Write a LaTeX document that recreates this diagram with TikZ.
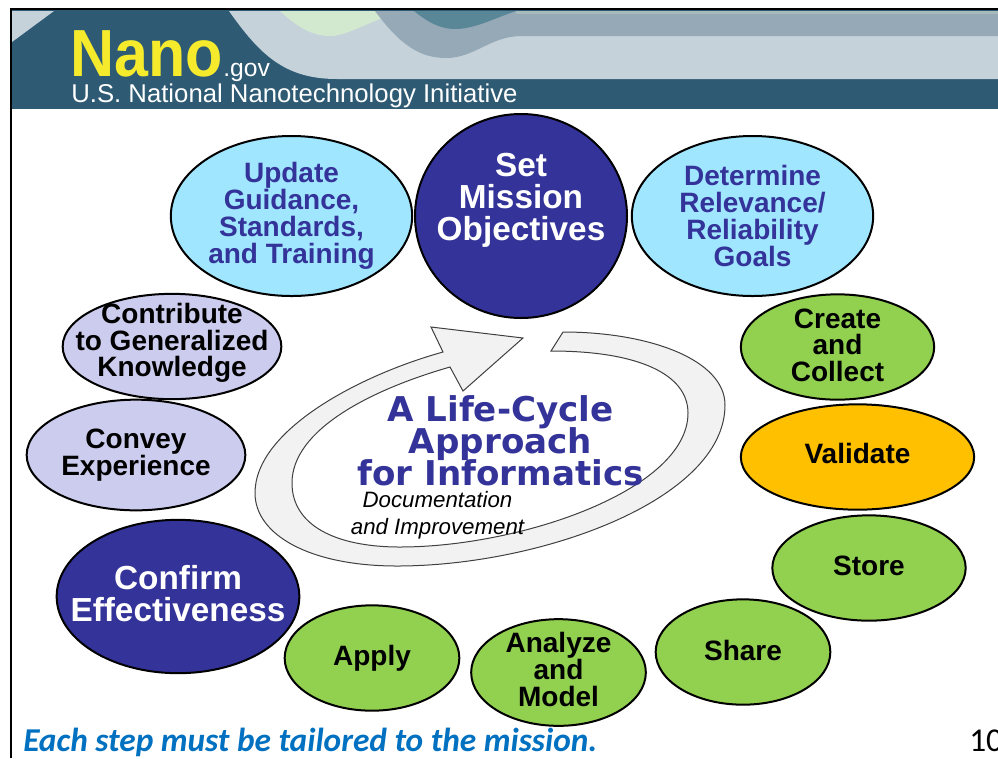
\documentclass[tikz,border=0pt]{standalone}
\usepackage{graphicx}
\usepackage{fontspec}
\setmainfont{Liberation Sans}
\newfontfamily\titlefont{DejaVu Sans}
\newfontfamily\notefont{Carlito}
\usetikzlibrary{positioning,shapes.geometric}
\definecolor{navyb}{HTML}{333399}
\definecolor{skyb}{HTML}{A0E6FF}
\definecolor{lilacb}{HTML}{CCCCEE}
\definecolor{greenb}{HTML}{92D050}
\definecolor{amberb}{HTML}{FFC000}
\definecolor{bannerdark}{HTML}{2E5A73}
\definecolor{bannerlight}{HTML}{C5D2DA}
\definecolor{bannermid}{HTML}{94A7B5}
\definecolor{bannergreen}{HTML}{D3E9CF}
\definecolor{bannerteal}{HTML}{5A8798}
\definecolor{nanoyellow}{HTML}{F5EB2C}
\definecolor{notecolor}{HTML}{0070C0}
\newcommand{\liftline}[1]{\\[#1]\mbox{}}
\newcommand{\tightlines}{\setlength{\lineskiplimit}{-20pt}}

\begin{document}
\begin{tikzpicture}[x=0.75pt,y=-0.75pt,
	stageb/.style={
	  draw=black,
	  line width=1.5pt,
	  ellipse,
	  inner sep=-20pt,
	  align=center,
	  font=\fontsize{21}{20}\selectfont\bfseries
	},
	greenstage/.style={stageb,fill=greenb},
	lilacstage/.style={stageb,fill=lilacb},
	skystage/.style={
	  stageb,
	  fill=skyb,
	  text=navyb,
	  font=\fontsize{21}{20.3}\selectfont\bfseries
	},
	navystage/.style={
	  stageb,
	  fill=navyb,
	  text=white,
	  font=\fontsize{25}{24}\selectfont\bfseries
	}]

	\useasboundingbox (0,0) rectangle (998,758);
	\fill[white] (0,0) rectangle (998,758);

	% banner
	\fill[bannerdark] (11,10) rectangle (998,109);
	\fill[bannerlight] (12,11) -- (54,11) -- (12,42) -- cycle;
	\fill[bannerlight] (229,11) .. controls (260,55) and (285,79) .. (337,79) -- (998,79) -- (998,11) -- cycle;
	\fill[bannergreen] (280,11) .. controls (300,30) and (315,36) .. (331,36) .. controls (350,36) and (380,14) .. (410,11) -- cycle;
	\fill[bannermid,opacity=.95] (375,11) .. controls (400,45) and (420,58) .. (446,58) .. controls (475,58) and (490,36) .. (522,36) -- (998,36) -- (998,11) -- cycle;
	\fill[bannerteal] (414,11) .. controls (430,24) and (442,29) .. (455,29) .. controls (475,29) and (495,18) .. (516,11) -- cycle;
	\fill[bannermid!70!bannergreen] (516,11) rectangle (998,14);

	\draw[black,line width=1.5pt] (11,758) -- (11,9) -- (998,9);

	\node[text=nanoyellow,anchor=base west,inner sep=0pt,font=\fontsize{50}{50}\selectfont\bfseries] (Nano) at (70,76) {\scalebox{.915}[1]{Nano}};
	\node[text=white,anchor=base west,inner sep=0pt,font=\fontsize{18.5}{18.5}\selectfont] (Gov) at (Nano.base east) {.gov};
	\node[text=white,anchor=base west,inner sep=0pt,font=\fontsize{19.3}{19.3}\selectfont] (Initiative) at (71,102) {U.S. National Nanotechnology Initiative};

	% cycle arrow
	\draw[draw=black!75,fill=black!5,line width=.75pt]
	  (443,352) .. controls (360,375) and (255,430) .. (255,493)
	  .. controls (255,535) and (310,566) .. (397,566)
	  .. controls (540,566) and (725,500) .. (725,405)
	  .. controls (725,360) and (650,332) .. (563,332)
	  -- (551,351)
	  .. controls (640,351) and (688,375) .. (688,413)
	  .. controls (688,490) and (520,547) .. (400,547)
	  .. controls (335,547) and (292,525) .. (292,483)
	  .. controls (292,430) and (370,390) .. (450,367)
	  -- (463,391) -- (523,338) -- (431,327) -- cycle;

	\node[text=navyb,align=center,font=\tightlines\fontsize{25.6}{24}\titlefont\bfseries] (Approach) at (500.5,441) {A Life-Cycle\\Approach\\for Informatics};
	\node[align=center,font=\fontsize{16.7}{20}\selectfont\itshape] (Improvement) at (437.5,515) {Documentation\\and Improvement};

	% stages
	\node[navystage,minimum width=159pt,minimum height=153pt] (Mission) at (521,216) {Set\\Mission\\Objectives\liftline{5pt}};
	\node[skystage,minimum width=181pt,minimum height=120pt] (Guidance) at (291.5,216) {Update\\Guidance,\\Standards,\\and Training};
	\node[skystage,minimum width=181pt,minimum height=120pt] (Goals) at (752.5,216) {Determine\\Relevance/\\Reliability\\Goals};
	\node[greenstage,minimum width=145pt,minimum height=79pt] (Collect) at (837.5,347) {Create\\and\\Collect\liftline{-17pt}};
	\node[stageb,fill=amberb,minimum width=175pt,minimum height=79pt] (Validate) at (857.5,457) {Validate\liftline{-14pt}};
	\node[greenstage,minimum width=145pt,minimum height=79pt] (Store) at (869,568) {Store\liftline{-17pt}};
	\node[greenstage,minimum width=131pt,minimum height=79pt] (Share) at (743,652) {Share\liftline{-17pt}};
	\node[greenstage,minimum width=131pt,minimum height=80pt] (Analyze) at (558.5,672.5) {Analyze\\and\\Model\liftline{-15.5pt}};
	\node[greenstage,minimum width=131pt,minimum height=79pt] (Apply) at (372,658) {Apply};
	\node[navystage,minimum width=182pt,minimum height=115pt] (Confirm) at (178,596.5) {Confirm\\Effectiveness\liftline{-19.5pt}};
	\node[lilacstage,minimum width=164pt,minimum height=83pt] (Convey) at (136,455) {Convey\\Experience};
	\node[lilacstage,minimum width=164pt,minimum height=79pt] (Contribute) at (172,346.5) {Contribute\\to Generalized\\Knowledge\liftline{-10.4pt}};

	% footer
	\node[text=notecolor,anchor=base west,inner sep=0pt,font=\fontsize{25}{25}\notefont\bfseries\itshape] (Tailored) at (23,751) {Each step must be tailored to the mission.};
	\node[anchor=base west,inner sep=0pt,font=\fontsize{25}{25}\notefont] (Page) at (969,751) {10};
\end{tikzpicture}
\end{document}
